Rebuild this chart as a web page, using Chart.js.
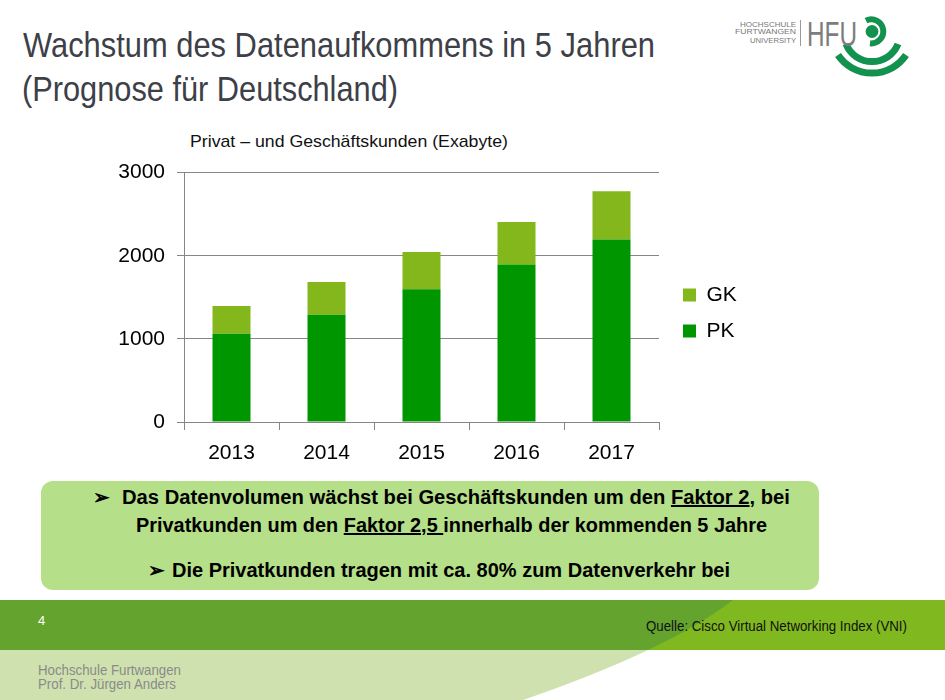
<!DOCTYPE html>
<html>
<head>
<meta charset="utf-8">
<script src="https://cdn.jsdelivr.net/npm/chart.js@4"></script>
<style>
  html, body { margin: 0; padding: 0; background: #fff; }
  #slide { position: relative; width: 945px; height: 700px; overflow: hidden;
           font-family: "Liberation Sans", Arial, sans-serif; }
  #deco { position: absolute; left: 0; top: 0; }
  .t { position: absolute; white-space: nowrap; line-height: 1; transform-origin: 0 0; }
  .title { font-size: 34.5px; color: #3d4047; }
  .box { position: absolute; left: 41px; top: 481px; width: 778px; height: 109px;
         background: #b5df88; border-radius: 12px; }
  .bullet { font-size: 20px; font-weight: bold; color: #000; }
  .foot { font-size: 15px; color: #8a8a8a; }
  #chartWrap { position: absolute; left: 100px; top: 148px; width: 660px; height: 332px; }
</style>
</head>
<body>
<div id="slide">
  <svg id="deco" width="945" height="700">
    <!-- footer band -->
    <rect x="0" y="600" width="945" height="50" fill="#63a32e"/>
    <path d="M733,600 L945,600 L945,650 L648,650 Q700.5,625 733,600 Z" fill="#80b820"/>
    <path d="M0,650 L648,650 Q595.5,675 523,700 L0,700 Z" fill="#cfe1ae"/>
    <!-- logo mark -->
    <line x1="800.5" y1="20" x2="800.5" y2="46" stroke="#9a9a9a" stroke-width="1"/>
    <circle cx="872" cy="31.5" r="6.4" fill="#13914f"/>
    <path d="M866,20.6 A12,12 0 1 1 870,43.3" fill="none" stroke="#13914f" stroke-width="6"/>
    <path d="M846,44 A28,28 0 0 0 898,44" fill="none" stroke="#13914f" stroke-width="7"/>
    <path d="M838,55 A41,41 0 0 0 906,55" fill="none" stroke="#13914f" stroke-width="7"/>
  </svg>

  <div class="t title fit" data-w="632" style="left:23px; top:28px;">Wachstum des Datenaufkommens in 5 Jahren</div>
  <div class="t title fit" data-w="376" style="left:22px; top:72px;">(Prognose für Deutschland)</div>

  <div class="t fit" data-w="56" style="left:740px; top:20.7px; font-size:7.8px; color:#777;">HOCHSCHULE</div>
  <div class="t fit" data-w="61" style="left:735px; top:28.4px; font-size:7.8px; color:#777;">FURTWANGEN</div>
  <div class="t fit" data-w="46" style="left:750px; top:36.7px; font-size:7.8px; color:#777;">UNIVERSITY</div>
  <div class="t fit" data-w="50" style="left:807px; top:16px; font-size:35px; color:#7d7d7d;">HFU</div>

  <div class="t fit" data-w="318" style="left:190px; top:132.6px; font-size:17px; color:#111;">Privat – und Geschäftskunden (Exabyte)</div>

  <div id="chartWrap"><canvas id="chart"></canvas></div>

  <div class="box"></div>
  <div class="t bullet" style="left:93px; top:487px;">➢</div>
  <div class="t bullet fit" data-w="668" style="left:122px; top:487px;">Das Datenvolumen wächst bei Geschäftskunden um den <u>Faktor 2</u>, bei</div>
  <div class="t bullet fit" data-w="631" style="left:136px; top:515px;">Privatkunden um den <u>Faktor 2,5 </u>innerhalb der kommenden 5 Jahre</div>
  <div class="t bullet" style="left:148px; top:560px;">➢</div>
  <div class="t bullet fit" data-w="558" style="left:172px; top:560px;">Die Privatkunden tragen mit ca. 80% zum Datenverkehr bei</div>

  <div class="t" style="left:38px; top:613.5px; font-size:13px; color:#fff;">4</div>
  <div class="t fit" data-w="261" style="left:646px; top:618.8px; font-size:14px; color:#111;">Quelle: Cisco Virtual Networking Index (VNI)</div>
  <div class="t foot fit" data-w="143" style="left:38px; top:662.3px;">Hochschule Furtwangen</div>
  <div class="t foot fit" data-w="138" style="left:38px; top:676.3px;">Prof. Dr. Jürgen Anders</div>
</div>

<script>
"use strict";

// data (Exabyte)
const years = ["2013", "2014", "2015", "2016", "2017"];
const pkValues = [1063, 1291, 1596, 1896, 2196];   // Privatkunden
const gkValues = [333, 393, 448, 511, 580];        // Geschäftskunden
const yMax = 3000;
const yStep = 1000;

const gridColor = "#868686";

// squeeze the html texts to the width they have on the slide
document.querySelectorAll(".fit").forEach(el => {
    const w = el.getBoundingClientRect().width;
    const target = parseFloat(el.dataset.w);
    if (w > 0) el.style.transform = "scaleX(" + (target / w).toFixed(4) + ")";
});

// legend needs a fixed width and a small nudge to sit like the original
const legendNudge = {
    id: "legendNudge",
    beforeLayout(chart) {
        const lg = chart.legend;
        if (lg && !lg._fixed) {
            const fit = lg.fit.bind(lg);
            lg.fit = function () { fit(); this.width = 101; };
            lg._fixed = true;
        }
    },
    afterLayout(chart) {
        const lg = chart.legend;
        lg.left += 9; lg.right += 9;
        lg.top -= 1; lg.bottom -= 1;
    }
};

Chart.defaults.font.family = '"Liberation Sans", Arial, sans-serif';
Chart.defaults.color = "#000";

new Chart(document.getElementById("chart").getContext("2d"), {
    type: "bar",
    data: {
        labels: years,
        datasets: [
            { label: "PK", data: pkValues, backgroundColor: "#009600" },
            { label: "GK", data: gkValues, backgroundColor: "#84b71b" }
        ]
    },
    options: {
        responsive: true,
        maintainAspectRatio: false,
        animation: false,
        barPercentage: 0.4,
        categoryPercentage: 1.0,
        layout: { padding: 0 },
        plugins: {
            tooltip: { enabled: false },
            legend: {
                position: "right",
                reverse: true,
                labels: { boxWidth: 13, boxHeight: 13, padding: 15, font: { size: 21 } }
            }
        },
        scales: {
            x: {
                stacked: true,
                grid: { drawOnChartArea: false, drawTicks: true, tickLength: 8, color: gridColor, offset: true },
                border: { display: true, color: gridColor },
                ticks: { font: { size: 21 }, padding: 11 },
                afterFit(scale) { scale.height = 58; }
            },
            y: {
                stacked: true,
                min: 0,
                max: yMax,
                grid: { color: gridColor, tickLength: 7 },
                border: { display: true, color: gridColor },
                ticks: { stepSize: yStep, font: { size: 21 }, padding: 12, callback: v => String(v) },
                afterFit(scale) { scale.width = 84; }
            }
        }
    },
    plugins: [legendNudge]
});
</script>
</body>
</html>
